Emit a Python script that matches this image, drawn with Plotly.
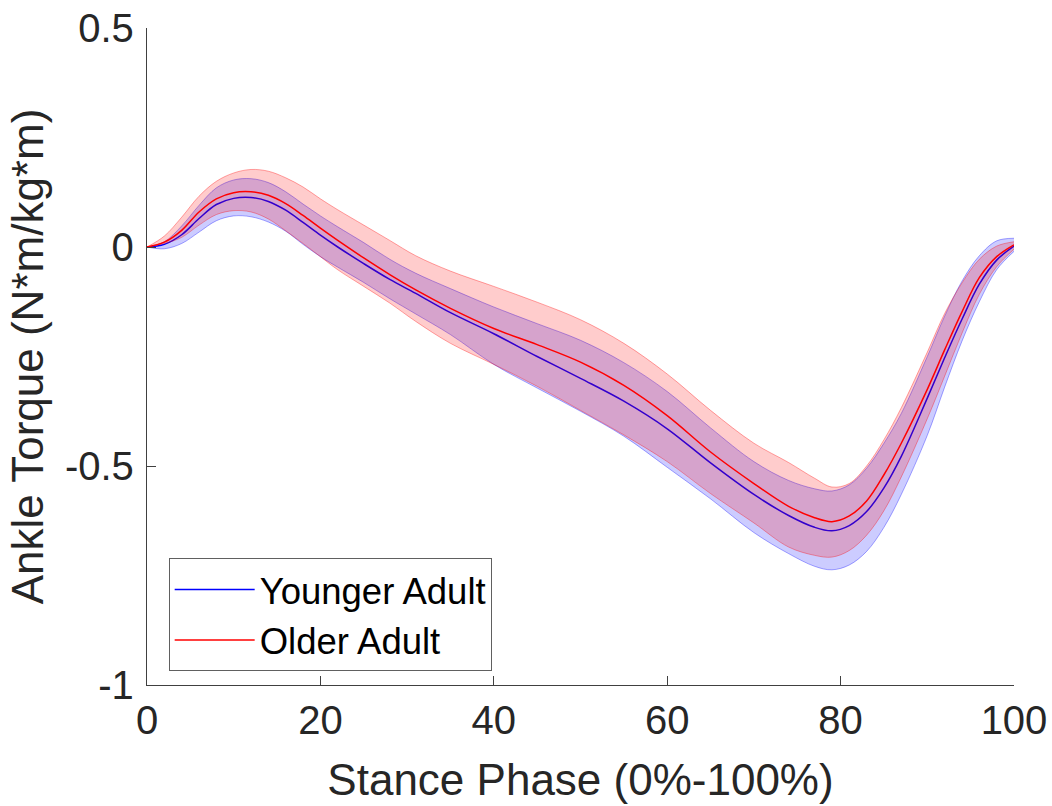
import plotly.graph_objects as go

# Stance phase (%)
stance = [0, 2, 4, 6, 8, 10, 12, 14, 16, 18, 20, 22, 25, 28, 31, 35, 40, 45, 50,
          55, 60, 65, 70, 74, 77, 79, 81, 83, 85, 87, 90, 92, 94, 96, 98, 100]

# Younger adult
young_mean = [0.000, 0.006, 0.028, 0.065, 0.097, 0.111, 0.113, 0.104, 0.084, 0.056, 0.027,
              0.000, -0.038, -0.074, -0.106, -0.150, -0.198, -0.250, -0.300,
              -0.352, -0.415, -0.493, -0.565, -0.613, -0.640, -0.648, -0.636, -0.604,
              -0.550, -0.478, -0.345, -0.253, -0.165, -0.085, -0.030, 0.002]
young_upper = [0.000, 0.012, 0.048, 0.095, 0.135, 0.153, 0.156, 0.147, 0.126, 0.098, 0.071,
               0.046, 0.010, -0.028, -0.060, -0.095, -0.137, -0.175, -0.213,
               -0.264, -0.330, -0.413, -0.490, -0.533, -0.552, -0.557, -0.543, -0.505,
               -0.448, -0.380, -0.250, -0.158, -0.078, -0.020, 0.014, 0.020]
young_lower = [0.000, -0.004, 0.008, 0.034, 0.060, 0.071, 0.069, 0.057, 0.036, 0.006, -0.022,
               -0.046, -0.081, -0.118, -0.153, -0.200, -0.268, -0.322, -0.375,
               -0.432, -0.503, -0.575, -0.652, -0.700, -0.729, -0.737, -0.726, -0.695,
               -0.640, -0.565, -0.430, -0.320, -0.215, -0.125, -0.052, -0.010]

# Older adult
old_mean = [0.000, 0.011, 0.038, 0.080, 0.110, 0.124, 0.126, 0.118, 0.099, 0.072, 0.043,
            0.015, -0.025, -0.063, -0.098, -0.140, -0.186, -0.223, -0.263,
            -0.316, -0.385, -0.468, -0.540, -0.592, -0.618, -0.627, -0.614, -0.580,
            -0.520, -0.448, -0.325, -0.235, -0.148, -0.070, -0.022, 0.005]
old_upper = [0.000, 0.025, 0.068, 0.116, 0.150, 0.169, 0.177, 0.173, 0.158, 0.137, 0.110,
             0.085, 0.050, 0.015, -0.020, -0.055, -0.090, -0.126, -0.166,
             -0.220, -0.290, -0.373, -0.448, -0.492, -0.528, -0.548, -0.540, -0.500,
             -0.440, -0.367, -0.240, -0.152, -0.082, -0.028, 0.002, 0.012]
old_lower = [0.000, 0.008, 0.022, 0.050, 0.074, 0.083, 0.080, 0.064, 0.037, 0.008, -0.022,
             -0.052, -0.090, -0.128, -0.170, -0.220, -0.268, -0.318, -0.373,
             -0.429, -0.490, -0.563, -0.630, -0.685, -0.704, -0.708, -0.693, -0.658,
             -0.602, -0.525, -0.392, -0.295, -0.197, -0.108, -0.045, -0.005]

x_ticks = [0, 20, 40, 60, 80, 100]
y_ticks = [-1, -0.5, 0, 0.5]
y_tick_text = ["-1", "-0.5", "0", "0.5"]

FONT = "Liberation Sans, Arial, Helvetica, sans-serif"

fig = go.Figure()

def add_group(upper, lower, mean, name, rgb):
    r, g, b = rgb
    edge = f"rgba({r},{g},{b},0.35)"
    fill = f"rgba({r},{g},{b},0.2)"
    fig.add_trace(go.Scatter(x=stance, y=upper, mode="lines", showlegend=False,
                             line=dict(color=edge, width=1, shape="spline", smoothing=1),
                             hoverinfo="skip"))
    fig.add_trace(go.Scatter(x=stance, y=lower, mode="lines", showlegend=False,
                             fill="tonexty", fillcolor=fill,
                             line=dict(color=edge, width=1, shape="spline", smoothing=1),
                             hoverinfo="skip"))
    fig.add_trace(go.Scatter(x=stance, y=mean, mode="lines", name=name,
                             line=dict(color=f"rgb({r},{g},{b})", width=1.5,
                                       shape="spline", smoothing=1)))

add_group(young_upper, young_lower, young_mean, "Younger Adult", (0, 0, 255))
add_group(old_upper, old_lower, old_mean, "Older Adult", (255, 0, 0))

axis_color = "#404040"
fig.update_layout(
    width=1052, height=806,
    margin=dict(l=147, r=38, t=28, b=121),
    paper_bgcolor="white", plot_bgcolor="white",
    font=dict(family=FONT, color="#262626"),
    legend=dict(x=0.025, y=0.107, xanchor="left", yanchor="middle",
                bgcolor="white", bordercolor="#606060", borderwidth=1,
                font=dict(size=36.5, family=FONT, color="#000000"),
                itemwidth=80, tracegroupgap=0, traceorder="normal"),
    xaxis=dict(range=[0, 100], tickvals=x_ticks, ticks="inside", ticklen=9,
               tickcolor=axis_color, showline=True, linecolor=axis_color, linewidth=1.3,
               showgrid=False, zeroline=False, automargin=False,
               tickfont=dict(size=40, family=FONT, color="#262626"),
               title=dict(text="Stance Phase (0%-100%)", standoff=23,
                          font=dict(size=44, family=FONT, color="#262626"))),
    yaxis=dict(range=[-1, 0.5], tickvals=y_ticks, ticktext=y_tick_text, ticks="inside",
               ticklen=9, tickcolor=axis_color, showline=True, linecolor=axis_color,
               linewidth=1.3, showgrid=False, zeroline=False, automargin=False,
               ticklabelstandoff=4,
               tickfont=dict(size=40, family=FONT, color="#262626"),
               title=dict(text="Ankle Torque (N*m/kg*m)", standoff=7,
                          font=dict(size=44, family=FONT, color="#262626"))),
)

fig.write_html("out.html")
